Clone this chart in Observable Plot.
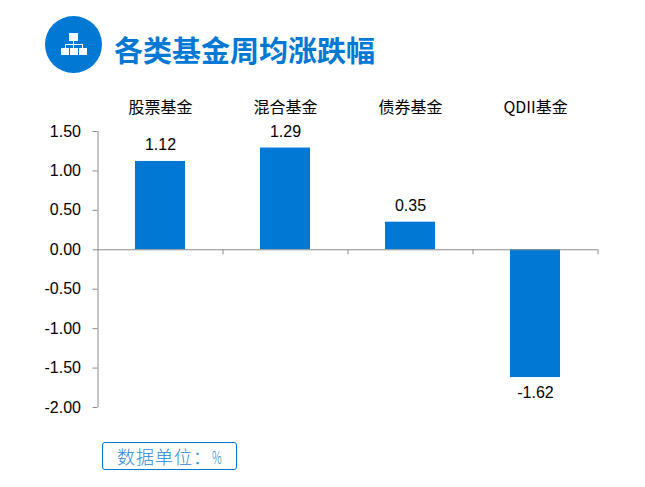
<!DOCTYPE html>
<html><head><meta charset="utf-8">
<script src="https://cdn.jsdelivr.net/npm/d3@7"></script>
<script src="https://cdn.jsdelivr.net/npm/@observablehq/plot@0.6"></script>
<style>
html,body{margin:0;padding:0;background:#fff;width:645px;height:487px;overflow:hidden}
#wrap{position:relative;width:645px;height:487px}
#plot{position:absolute;left:0;top:0}
#plot svg{display:block}
#head{position:absolute;left:45px;top:16px;display:flex;align-items:flex-start}
#head h1{margin:0 0 0 12px;font:700 29px/66px "Noto Sans CJK SC";color:#0078d4;white-space:nowrap;height:57px}
#unit{position:absolute;left:102px;top:442px;width:133px;height:26px;border:1px solid #0078d4;border-radius:3px;font:300 18px/26px "Noto Sans CJK SC";color:#2a88d8;text-indent:14px;letter-spacing:1px;white-space:nowrap}
#unit span{display:inline-block;transform:scaleX(.6);transform-origin:left center;text-indent:0}
</style></head><body>
<div id="wrap">
<div id="plot"></div>
<div id="head">
<svg width="57" height="57" viewBox="0 0 57 57"><circle cx="28.5" cy="28.5" r="28.5" fill="#0078d4"/>
<g fill="#fff"><rect x="24" y="17" width="9" height="8"/><rect x="16" y="32" width="8" height="7"/><rect x="25" y="32" width="8" height="7"/><rect x="34" y="32" width="8" height="7"/><rect x="20" y="28" width="18" height="1"/><rect x="28" y="25" width="1" height="7"/><rect x="20" y="28" width="1" height="4"/><rect x="37" y="28" width="1" height="4"/></g></svg>
<h1>各类基金周均涨跌幅</h1>
</div>
<div id="unit">数据单位：<span>%</span></div>
</div>
<script>
const categories = ["股票基金","混合基金","债券基金","QDII基金"];
const values = [1.12,1.29,0.35,-1.62];
const yTicks = [1.5,1,0.5,0,-0.5,-1,-1.5,-2];
const rows = categories.map((c,i)=>({c,v:values[i]}));
const axisColor = "#8c8c8c", blue = "#0078d4";
const latin = "'Liberation Sans'", cjk = "'Noto Sans CJK SC'";
const chart = Plot.plot({
  width:645, height:420,
  marginTop:131, marginBottom:13, marginLeft:97.5, marginRight:47.5,
  style:{background:"transparent",fontFamily:latin,fontSize:"16px",color:"#000"},
  x:{domain:categories,paddingInner:0.6,paddingOuter:0.3,axis:null},
  y:{domain:[-2,1.5],axis:null},
  marks:[
    Plot.barY(rows,{x:"c",y:"v",fill:blue}),
    Plot.axisY({ticks:yTicks,label:null,tickFormat:d=>d.toFixed(2),tickSize:5,tickPadding:12,stroke:axisColor,strokeOpacity:1,fill:"#000",fontSize:16}),
    Plot.ruleX(categories.slice(0,1),{x:d=>d,dx:-62.5,y1:-2,y2:1.5,stroke:axisColor}),
    Plot.ruleY([0],{stroke:axisColor}),
    Plot.ruleX(categories,{x:d=>d,y1:0,y2:-0.065,dx:62.5,stroke:axisColor}),
    Plot.text(rows.filter(d=>d.v>=0),{x:"c",y:"v",text:d=>d.v.toFixed(2),fill:"#000",fontSize:16,lineAnchor:"bottom",dy:-8.5,dy:-11}),
    Plot.text(rows.filter(d=>d.v<0),{x:"c",y:"v",text:d=>d.v.toFixed(2),fill:"#000",fontSize:16,lineAnchor:"top",dy:9}),
    Plot.text(categories,{x:d=>d,frameAnchor:"top",dy:-24,lineAnchor:"middle",text:d=>d,fill:"#000",fontSize:16,fontFamily:cjk})
  ]
});
document.getElementById("plot").appendChild(chart);
</script>
</body></html>
